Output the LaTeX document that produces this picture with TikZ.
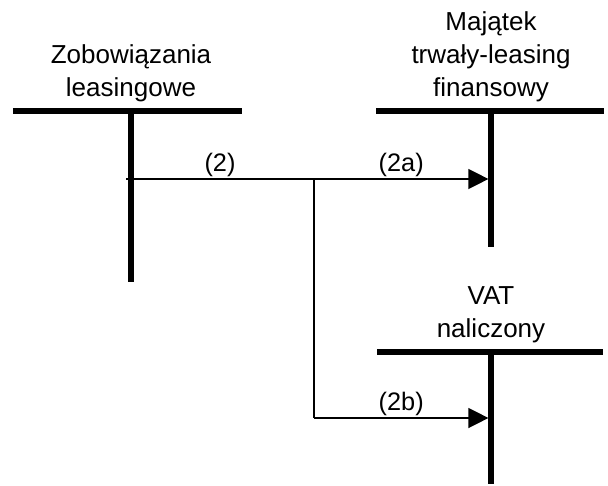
\documentclass[tikz,border=0pt]{standalone}
\usepackage{fontspec}
\setmainfont{Liberation Sans}
\usetikzlibrary{arrows.meta, positioning}
\tikzstyle{acctitle} = [
  align=center, inner sep=2pt,
  font=\fontsize{18.5}{23.4}\selectfont
]
\tikzstyle{bar} = [line width=3.6pt]
\tikzstyle{flow} = [line width=1pt]
\tikzstyle{arrow} = [-{Triangle[length=5mm, width=5mm]}, line width=1pt]
\tikzstyle{lbl} = [above, inner sep=1pt, font=\fontsize{18}{22}\selectfont]

\begin{document}
\begin{tikzpicture}
  \useasboundingbox (0, 0) rectangle (15.2, -12.15);

  % Accounts
  \coordinate (zobL) at (0.325, -2.775);
  \coordinate (zobR) at (6.05, -2.775);
  \coordinate (zobTop) at (3.275, -2.775);
  \coordinate (zobBot) at (3.275, -7.05);

  \coordinate (majL) at (9.4, -2.775);
  \coordinate (majR) at (15.1, -2.775);
  \coordinate (majTop) at (12.275, -2.775);
  \coordinate (majBot) at (12.275, -6.175);

  \coordinate (vatL) at (9.425, -8.8);
  \coordinate (vatR) at (15.075, -8.8);
  \coordinate (vatTop) at (12.275, -8.8);
  \coordinate (vatBot) at (12.275, -12.1);

  \draw[bar] (zobL) -- (zobR);
  \draw[bar] (zobTop) -- (zobBot);
  \draw[bar] (majL) -- (majR);
  \draw[bar] (majTop) -- (majBot);
  \draw[bar] (vatL) -- (vatR);
  \draw[bar] (vatTop) -- (vatBot);

  \node[acctitle, above=4.4pt of zobTop] (zobTitle) {Zobowiązania\\leasingowe};
  \node[acctitle, above=4.4pt of majTop] (majTitle) {Majątek\\trwały-leasing\\finansowy};
  \node[acctitle, above=4.4pt of vatTop] (vatTitle) {VAT\\naliczony};

  % Postings
  \coordinate (start) at (3.15, -4.475);
  \coordinate (split) at (7.85, -4.475);
  \coordinate (majIn) at (12.21, -4.475);
  \coordinate (corner) at (7.85, -10.45);
  \coordinate (vatIn) at (12.21, -10.45);

  \draw[flow] (start) -- node[lbl] (lblTwo) {(2)} (split);
  \draw[arrow] (split) -- node[lbl] (lblTwoA) {(2a)} (majIn);
  \draw[flow] (split) -- (corner);
  \draw[arrow] (corner) -- node[lbl] (lblTwoB) {(2b)} (vatIn);

\end{tikzpicture}
\end{document}
